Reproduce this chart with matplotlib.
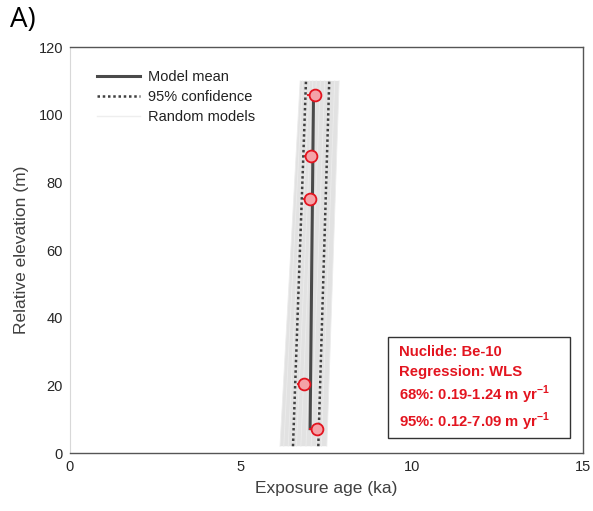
import matplotlib
matplotlib.use("Agg")
import matplotlib.pyplot as plt
from matplotlib.patches import Rectangle, Polygon
from matplotlib.lines import Line2D

plt.rcParams['font.family'] = ['Liberation Sans', 'DejaVu Sans']
plt.rcParams['mathtext.fontset'] = 'custom'
plt.rcParams['mathtext.rm'] = 'Liberation Sans'
plt.rcParams['mathtext.bf'] = 'Liberation Sans:bold'

# Sample data: exposure ages (ka) and relative elevations (m)
sample_age = [7.16, 7.05, 7.02, 6.84, 7.22]
sample_elev = [105.8, 87.8, 75.1, 20.4, 7.2]
sample_err = [0.22, 0.2, 0.2, 0.2, 0.22]

# Model mean line (age at bottom/top elevation)
mean_elev = [7.2, 105.8]
mean_age = [7.02, 7.12]

# 95% confidence bounds (age at elevations)
conf_elev = [2.0, 110.0]
conf_low = [6.52, 6.90]
conf_high = [7.26, 7.58]

# Random model lines: ages at bottom and top elevation
rand_elev = [2.0, 110.0]
rand_bottom = [6.14, 6.25, 6.38, 6.5, 6.62, 6.75, 6.9, 7.05, 7.2, 7.35, 7.51]
rand_top = [6.73, 6.8, 6.9, 7.0, 7.1, 7.2, 7.32, 7.45, 7.6, 7.74, 7.87]

stats_lines = ["Nuclide: Be-10", "Regression: WLS",
               r"68%: 0.19-1.24 m yr$^{\mathbf{-1}}$",
               r"95%: 0.12-7.09 m yr$^{\mathbf{-1}}$"]

red = '#e3141f'
dark = '#404040'

fig = plt.figure(figsize=(5.93, 5.11), dpi=100)
ax = fig.add_axes([70/593, 58/511, 513/593, 406/511])

# envelope of the random models
env = Polygon([(rand_bottom[0], rand_elev[0]), (rand_top[0], rand_elev[1]),
               (rand_top[-1], rand_elev[1]), (rand_bottom[-1], rand_elev[0])],
              closed=True, facecolor='#e2e2e2', edgecolor='none', zorder=1)
ax.add_patch(env)
for xb, xt in zip(rand_bottom, rand_top):
    ax.plot([xb, xt], rand_elev, color='#ececec', lw=0.6, zorder=1.5)
rand_handle = Line2D([], [], color='#eeeeee', lw=1)

ax.plot(conf_low, conf_elev, color=dark, lw=1.8, ls=(0, (1, 1.1)), zorder=3)
conf_handle, = ax.plot(conf_high, conf_elev, color=dark, lw=1.8, ls=(0, (1, 1.1)), zorder=3)
mean_handle, = ax.plot(mean_age, mean_elev, color='#4a4a4a', lw=2.2, zorder=3)

ax.errorbar(sample_age, sample_elev, xerr=sample_err, fmt='o', ms=8.5,
            mfc='#f4a3a8', mec=red, mew=1.3, ecolor=red, elinewidth=1.3,
            capsize=0, zorder=4)

ax.set_xlim(0, 15)
ax.set_ylim(0, 120)
ax.set_xticks([0, 5, 10, 15])
ax.set_yticks(range(0, 121, 20))
ax.tick_params(length=0, labelsize=10.5, colors='#262626', pad=5)
for side in ['top', 'bottom', 'right']:
    ax.spines[side].set_color('#555555')
    ax.spines[side].set_linewidth(1.0)
ax.spines['left'].set_color('#d8d8d8')

ax.set_xlabel('Exposure age (ka)', fontsize=12.5, color=dark, labelpad=5)
ax.set_ylabel('Relative elevation (m)', fontsize=12.5, color=dark, labelpad=7)

leg = ax.legend([mean_handle, conf_handle, rand_handle],
                ['Model mean', '95% confidence', 'Random models'],
                loc='upper left', bbox_to_anchor=(0.052, 0.943), frameon=False,
                fontsize=10.5, handlelength=2.95, handletextpad=0.55,
                labelspacing=0.4, borderaxespad=0, borderpad=0)
for t in leg.get_texts():
    t.set_color('#222222')

# statistics box
box = Rectangle((9.3, 4.4), 5.32, 29.9, facecolor='white', edgecolor='#333333',
                lw=1.0, zorder=5)
ax.add_patch(box)
ys = [30.0, 23.8, 17.3, 9.3]
for y, s in zip(ys, stats_lines):
    ax.text(9.62, y, s, color=red, fontsize=10.7, fontweight='bold',
            va='center', ha='left', zorder=6)

fig.text(10/593, 1 - 20/511, 'A)', fontsize=20, va='center', ha='left',
         family=['Open Sans', 'DejaVu Sans'])

fig.savefig('out.png', dpi=100, facecolor='white')
